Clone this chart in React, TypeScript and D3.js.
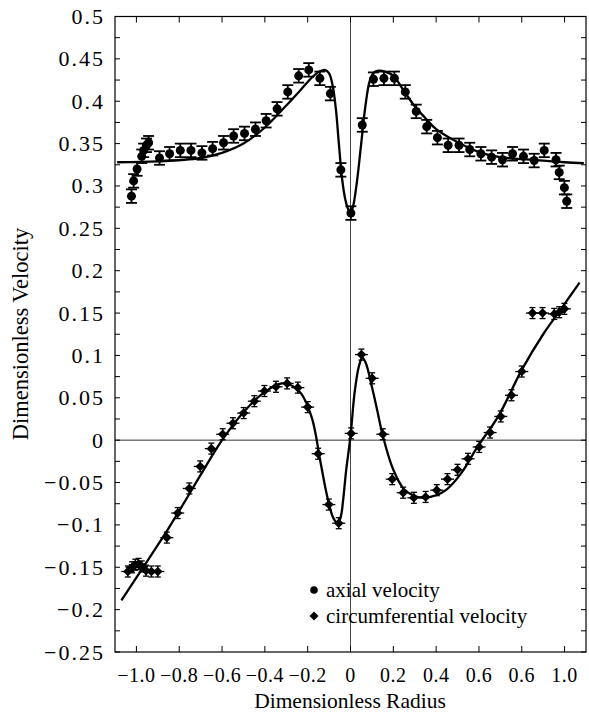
import React from "react";
import * as d3 from "d3";

// Measured axial velocity (radius, velocity)
const axialX = [-1.023, -1.013, -0.997, -0.975, -0.966, -0.953, -0.943, -0.892, -0.845, -0.795, -0.745, -0.694, -0.644, -0.593, -0.546, -0.495, -0.444, -0.394, -0.343, -0.293, -0.242, -0.195, -0.143, -0.094, -0.045, 0.002, 0.055, 0.107, 0.156, 0.205, 0.256, 0.307, 0.356, 0.406, 0.456, 0.507, 0.557, 0.609, 0.659, 0.710, 0.757, 0.808, 0.858, 0.905, 0.960, 0.975, 0.999, 1.010];
const axialV = [0.288, 0.306, 0.320, 0.335, 0.342, 0.348, 0.351, 0.333, 0.338, 0.342, 0.342, 0.339, 0.344, 0.351, 0.359, 0.362, 0.367, 0.377, 0.391, 0.411, 0.430, 0.437, 0.427, 0.409, 0.319, 0.268, 0.372, 0.426, 0.427, 0.427, 0.411, 0.388, 0.370, 0.357, 0.348, 0.348, 0.343, 0.338, 0.334, 0.331, 0.338, 0.335, 0.330, 0.342, 0.331, 0.316, 0.298, 0.282];
const axialErr = 0.008;

// Measured circumferential velocity (radius, velocity)
const circX = [-1.04, -1.02, -1.005, -0.99, -0.975, -0.955, -0.93, -0.9, -0.858, -0.807, -0.753, -0.702, -0.65, -0.597, -0.549, -0.499, -0.449, -0.402, -0.348, -0.296, -0.246, -0.2, -0.151, -0.101, -0.055, 0.003, 0.051, 0.101, 0.151, 0.195, 0.246, 0.296, 0.351, 0.403, 0.453, 0.5, 0.549, 0.601, 0.652, 0.702, 0.752, 0.8, 0.85, 0.897, 0.952, 0.975, 0.999];
const circV = [-0.155, -0.15, -0.147, -0.146, -0.149, -0.154, -0.155, -0.155, -0.115, -0.086, -0.057, -0.031, -0.01, 0.007, 0.02, 0.032, 0.046, 0.058, 0.063, 0.067, 0.062, 0.039, -0.016, -0.076, -0.098, 0.008, 0.101, 0.073, 0.007, -0.046, -0.062, -0.068, -0.067, -0.059, -0.046, -0.035, -0.022, -0.008, 0.009, 0.028, 0.053, 0.081, 0.15, 0.15, 0.149, 0.151, 0.155];

// Model profiles
const axialFitX = [-1.09, -0.9, -0.7, -0.6, -0.5, -0.4, -0.3, -0.234, -0.18, -0.145, -0.12, -0.1, -0.083, -0.068, -0.055, -0.04, -0.025, -0.01, 0, 0.012, 0.03, 0.05, 0.07, 0.09, 0.11, 0.13, 0.16, 0.2, 0.25, 0.3, 0.35, 0.4, 0.49, 0.6, 0.7, 0.84, 1.0, 1.09];
const axialFitV = [0.328, 0.329, 0.333, 0.339, 0.35, 0.369, 0.395, 0.413, 0.428, 0.435, 0.437, 0.433, 0.418, 0.39, 0.352, 0.31, 0.285, 0.272, 0.268, 0.276, 0.305, 0.35, 0.395, 0.424, 0.434, 0.436, 0.435, 0.43, 0.412, 0.394, 0.38, 0.367, 0.353, 0.34, 0.334, 0.331, 0.328, 0.327];

const circFitX = [-1.07, -0.95, -0.85, -0.78, -0.7, -0.6, -0.5, -0.4, -0.32, -0.27, -0.23, -0.18, -0.14, -0.11, -0.08, -0.06, -0.045, -0.035, -0.02, 0, 0.02, 0.04, 0.055, 0.07, 0.1, 0.125, 0.15, 0.2, 0.25, 0.3, 0.34, 0.4, 0.45, 0.52, 0.59, 0.69, 0.8, 0.9, 0.97, 1.07];
const circFitV = [-0.189, -0.143, -0.104, -0.075, -0.041, 0.0, 0.033, 0.057, 0.067, 0.064, 0.055, 0.026, -0.026, -0.065, -0.092, -0.098, -0.09, -0.072, -0.035, 0.005, 0.058, 0.088, 0.097, 0.092, 0.063, 0.035, 0.006, -0.035, -0.058, -0.066, -0.068, -0.065, -0.058, -0.038, -0.009, 0.028, 0.083, 0.125, 0.15, 0.186];

const xTickValues = [-1.0, -0.8, -0.6, -0.4, -0.2, 0, 0.2, 0.4, 0.6, 0.8, 1.0];
const xTickLabels = ["−1.0", "−0.8", "−0.6", "−0.4", "−0.2", "0", "0.2", "0.4", "0.6", "0.6", "1.0"];
const yTickValues = [0.5, 0.45, 0.4, 0.35, 0.3, 0.25, 0.2, 0.15, 0.1, 0.05, 0, -0.05, -0.1, -0.15, -0.2, -0.25];
const yTickLabels = ["0.5", "0.45", "0.4", "0.35", "0.3", "0.25", "0.2", "0.15", "0.1", "0.05", "0", "−0.05", "−0.1", "−0.15", "−0.2", "−0.25"];

const W = 589;
const H = 712;
const left = 115;
const right = 586;
const top = 16.5;
const bottom = 652;
const FONT = '"Liberation Serif", "Times New Roman", serif';
const txt = { fontFamily: FONT } as React.CSSProperties;
const yTickTxt = { fontFamily: FONT, letterSpacing: "2px" } as React.CSSProperties;
const xTickTxt = { fontFamily: FONT, letterSpacing: "0.5px" } as React.CSSProperties;

export default function App() {
  const x = d3.scaleLinear().domain([-1.1, 1.1]).range([left, right]);
  const y = d3.scaleLinear().domain([-0.25, 0.5]).range([bottom, top]);

  const line = d3
    .line<[number, number]>()
    .x((d) => x(d[0]))
    .y((d) => y(d[1]))
    .curve(d3.curveCatmullRom.alpha(0.5));

  const axialFit = line(axialFitX.map((v, i) => [v, axialFitV[i]] as [number, number])) || "";
  const circFit = line(circFitX.map((v, i) => [v, circFitV[i]] as [number, number])) || "";

  const minorY = d3.range(-0.25, 0.5001, 0.025);
  const tickLen = 5;

  const diamond = (cx: number, cy: number, s: number) =>
    `M${cx},${cy - s}L${cx + s},${cy}L${cx},${cy + s}L${cx - s},${cy}Z`;

  return (
    <svg
      width={W}
      height={H}
      style={{ position: "absolute", left: 0, top: 0, background: "#fff", fontFamily: FONT }}
    >
      <rect x={0} y={0} width={W} height={H} fill="#fff" />

      {/* zero reference lines */}
      <line x1={left} x2={right} y1={y(0)} y2={y(0)} stroke="#333" strokeWidth={1} />
      <line x1={x(0)} x2={x(0)} y1={top} y2={bottom} stroke="#444" strokeWidth={1} />

      {/* frame */}
      <rect x={left} y={top} width={right - left} height={bottom - top} fill="none" stroke="#000" strokeWidth={1.2} />

      {/* y ticks on both sides */}
      {minorY.map((v, i) => (
        <g key={"yt" + i} stroke="#000" strokeWidth={1}>
          <line x1={left} x2={left + tickLen} y1={y(v)} y2={y(v)} />
          <line x1={right} x2={right - tickLen} y1={y(v)} y2={y(v)} />
        </g>
      ))}
      {/* x ticks top and bottom */}
      {xTickValues.map((v, i) => (
        <g key={"xt" + i} stroke="#000" strokeWidth={1}>
          <line x1={x(v)} x2={x(v)} y1={bottom} y2={bottom - tickLen - 1} />
          <line x1={x(v)} x2={x(v)} y1={top} y2={top + tickLen + 1} />
        </g>
      ))}

      {/* tick labels */}
      {yTickValues.map((v, i) => (
        <text key={"yl" + i} x={105} y={y(v) + 7.5} textAnchor="end" fontSize={22} fill="#000" style={yTickTxt}>
          {yTickLabels[i]}
        </text>
      ))}
      {xTickValues.map((v, i) => (
        <text key={"xl" + i} x={x(v)} y={682} textAnchor="middle" fontSize={20} fill="#000" style={xTickTxt}>
          {xTickLabels[i]}
        </text>
      ))}

      {/* axis titles */}
      <text x={350} y={708} textAnchor="middle" fontSize={21.5} fill="#000" style={txt}>
        Dimensionless Radius
      </text>
      <text
        transform={`translate(28,334) rotate(-90)`}
        textAnchor="middle"
        fontSize={22.5}
        fill="#000"
        style={txt}
      >
        Dimensionless Velocity
      </text>

      {/* model curves */}
      <path d={axialFit} fill="none" stroke="#000" strokeWidth={2.3} />
      <path d={circFit} fill="none" stroke="#000" strokeWidth={2.3} />

      {/* axial velocity with error bars */}
      {axialX.map((xv, i) => {
        const cx = x(xv);
        const cy = y(axialV[i]);
        const y1 = y(axialV[i] + axialErr);
        const y2 = y(axialV[i] - axialErr);
        return (
          <g key={"a" + i}>
            <g stroke="#000" strokeWidth={1.8}>
              <line x1={cx} x2={cx} y1={y1} y2={y2} />
              <line x1={cx - 5.5} x2={cx + 5.5} y1={y1} y2={y1} />
              <line x1={cx - 5.5} x2={cx + 5.5} y1={y2} y2={y2} />
            </g>
            <circle cx={cx} cy={cy} r={4.5} fill="#000" />
          </g>
        );
      })}

      {/* circumferential velocity */}
      {circX.map((xv, i) => {
        const cx = x(xv);
        const cy = y(circV[i]);
        return (
          <g key={"c" + i}>
            <g stroke="#000" strokeWidth={1.3}>
              <line x1={cx - 6.5} x2={cx + 6.5} y1={cy} y2={cy} />
              <line x1={cx} x2={cx} y1={cy - 5.5} y2={cy + 5.5} />
              <line x1={cx - 3} x2={cx + 3} y1={cy - 5.5} y2={cy - 5.5} />
              <line x1={cx - 3} x2={cx + 3} y1={cy + 5.5} y2={cy + 5.5} />
            </g>
            <path d={diamond(cx, cy, 4.8)} fill="#000" />
          </g>
        );
      })}

      {/* legend */}
      <circle cx={314} cy={590} r={3.8} fill="#000" />
      <text x={326} y={597} fontSize={21} fill="#000" style={txt}>
        axial velocity
      </text>
      <path d={diamond(314, 616, 4.5)} fill="#000" />
      <text x={326} y={623} fontSize={21} fill="#000" style={txt}>
        circumferential velocity
      </text>
    </svg>
  );
}
